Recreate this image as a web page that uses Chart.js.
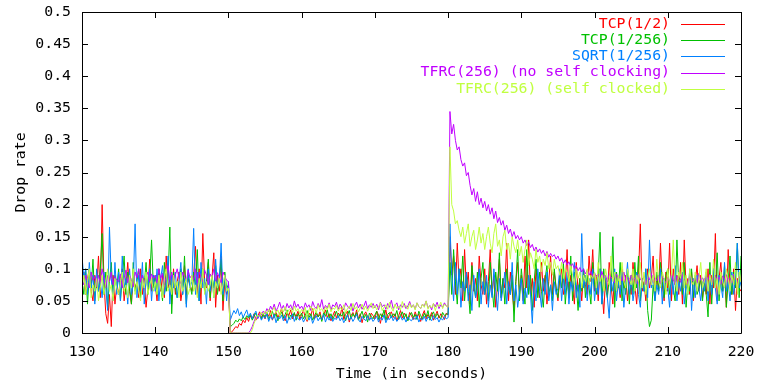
<!DOCTYPE html>
<html>
<head>
<meta charset="utf-8">
<script src="https://cdn.jsdelivr.net/npm/chart.js@4/dist/chart.umd.min.js"></script>
<style>
  html, body { margin: 0; padding: 0; background: #fff; }
  #wrap { width: 757px; height: 383px; }
</style>
</head>
<body>
<div id="wrap"><canvas id="drops"></canvas></div>
<script>
// samples every 0.25 s from 130 s to 220 s (one row = 5 s)
var startTime = 130;
var stepTime = 0.25;
var xTicks = [130, 140, 150, 160, 170, 180, 190, 200, 210, 220];
var yTicks = [0, 0.05, 0.1, 0.15, 0.2, 0.25, 0.3, 0.35, 0.4, 0.45, 0.5];
var seriesNames = ["TCP(1/2)", "TCP(1/256)", "SQRT(1/256)", "TFRC(256) (no self clocking)", "TFRC(256) (self clocked)"];
var seriesColors = ["#ff0000", "#00c000", "#0080ff", "#c000ff", "#c0ff40"];

var tcpHalf = [
  0.075, 0.095, 0.06, 0.085, 0.1, 0.065, 0.05, 0.09, 0.07, 0.12,
  0.055, 0.2, 0.08, 0.03, 0.015, 0.06, 0.01, 0.09, 0.045, 0.075,
  0.06, 0.085, 0.1, 0.05, 0.075, 0.11, 0.065, 0.045, 0.09, 0.07,
  0.08, 0.055, 0.1, 0.06, 0.085, 0.04, 0.07, 0.115, 0.065, 0.09,
  0.075, 0.05, 0.1, 0.065, 0.09, 0.055, 0.12, 0.07, 0.085, 0.045,
  0.1, 0.06, 0.08, 0.095, 0.05, 0.07, 0.105, 0.06, 0.085, 0.075,
  0.065, 0.09, 0.135, 0.06, 0.1, 0.045, 0.155, 0.08, 0.07, 0.11,
  0.05, 0.085, 0.125, 0.04, 0.09, 0.065, 0.12, 0.035, 0.08, 0.06,
  0.07, 0.0, 0.002, 0.006, 0.01, 0.008, 0.015, 0.012, 0.02, 0.016,
  0.024, 0.018, 0.027, 0.022, 0.03, 0.02, 0.026, 0.033, 0.024, 0.029,
  0.022, 0.031, 0.026, 0.035, 0.02, 0.028, 0.033, 0.024, 0.03, 0.038,
  0.025, 0.019, 0.032, 0.027, 0.036, 0.022, 0.03, 0.026, 0.034, 0.021,
  0.029, 0.035, 0.024, 0.018, 0.031, 0.027, 0.038, 0.022, 0.03, 0.025,
  0.033, 0.02, 0.028, 0.036, 0.024, 0.03, 0.019, 0.027, 0.034, 0.023,
  0.031, 0.026, 0.04, 0.021, 0.029, 0.034, 0.017, 0.027, 0.032, 0.024,
  0.036, 0.022, 0.03, 0.016, 0.028, 0.033, 0.025, 0.02, 0.031, 0.027,
  0.022, 0.034, 0.028, 0.015, 0.03, 0.025, 0.036, 0.021, 0.029, 0.033,
  0.024, 0.03, 0.019, 0.027, 0.035, 0.023, 0.031, 0.026, 0.02, 0.032,
  0.027, 0.021, 0.033, 0.025, 0.03, 0.018, 0.028, 0.035, 0.022, 0.029,
  0.024, 0.032, 0.02, 0.027, 0.034, 0.023, 0.03, 0.026, 0.021, 0.031,
  0.028, 0.15, 0.09, 0.12, 0.06, 0.14, 0.08, 0.1, 0.05, 0.13,
  0.07, 0.095, 0.045, 0.11, 0.065, 0.085, 0.05, 0.12, 0.075, 0.06,
  0.1, 0.045, 0.08, 0.13, 0.06, 0.09, 0.04, 0.075, 0.115, 0.055,
  0.085, 0.07, 0.14, 0.05, 0.095, 0.065, 0.035, 0.08, 0.11, 0.06,
  0.09, 0.05, 0.12, 0.07, 0.145, 0.06, 0.085, 0.04, 0.1, 0.075,
  0.055, 0.11, 0.065, 0.09, 0.045, 0.08, 0.12, 0.06, 0.095, 0.07,
  0.05, 0.085, 0.1, 0.06, 0.075, 0.13, 0.055, 0.09, 0.07, 0.045,
  0.11, 0.065, 0.085, 0.05, 0.095, 0.075, 0.06, 0.12, 0.08, 0.13,
  0.065, 0.09, 0.05, 0.1, 0.07, 0.03, 0.085, 0.06, 0.11, 0.075,
  0.045, 0.095, 0.065, 0.08, 0.055, 0.1, 0.07, 0.09, 0.05, 0.085,
  0.06, 0.11, 0.075, 0.045, 0.09, 0.17, 0.065, 0.08, 0.05, 0.1,
  0.07, 0.085, 0.12, 0.055, 0.09, 0.065, 0.14, 0.075, 0.05, 0.095,
  0.065, 0.14, 0.05, 0.1, 0.075, 0.09, 0.06, 0.11, 0.045, 0.145,
  0.07, 0.085, 0.06, 0.095, 0.05, 0.08, 0.105, 0.065, 0.09, 0.055,
  0.08, 0.06, 0.1, 0.045, 0.09, 0.07, 0.155, 0.05, 0.085, 0.11,
  0.065, 0.095, 0.04, 0.13, 0.075, 0.06, 0.1, 0.035, 0.085, 0.07,
  0.065
];
var tcp256 = [
  0.08, 0.06, 0.1, 0.045, 0.09, 0.07, 0.115, 0.05, 0.085, 0.065,
  0.1, 0.155, 0.06, 0.095, 0.04, 0.08, 0.11, 0.055, 0.09, 0.07,
  0.1, 0.05, 0.085, 0.12, 0.06, 0.095, 0.07, 0.045, 0.11, 0.065,
  0.08, 0.1, 0.055, 0.09, 0.075, 0.11, 0.06, 0.085, 0.145, 0.07,
  0.09, 0.06, 0.1, 0.075, 0.05, 0.11, 0.065, 0.085, 0.165, 0.03,
  0.095, 0.07, 0.055, 0.08, 0.1, 0.06, 0.12, 0.045, 0.09, 0.075,
  0.06, 0.095, 0.07, 0.13, 0.05, 0.085, 0.1, 0.065, 0.08, 0.115,
  0.055, 0.09, 0.07, 0.105, 0.06, 0.085, 0.115, 0.05, 0.095, 0.07,
  0.075, 0.01, 0.012, 0.015, 0.02, 0.017, 0.022, 0.019, 0.025, 0.021,
  0.027, 0.023, 0.029, 0.02, 0.026, 0.031, 0.024, 0.028, 0.022, 0.03,
  0.025, 0.032, 0.021, 0.028, 0.034, 0.024, 0.03, 0.019, 0.027, 0.033,
  0.023, 0.029, 0.036, 0.021, 0.028, 0.025, 0.032, 0.02, 0.03, 0.026,
  0.031, 0.022, 0.028, 0.035, 0.024, 0.03, 0.02, 0.027, 0.033, 0.025,
  0.029, 0.018, 0.032, 0.026, 0.036, 0.023, 0.03, 0.021, 0.028, 0.034,
  0.024, 0.03, 0.026, 0.033, 0.019, 0.028, 0.035, 0.022, 0.03, 0.025,
  0.032, 0.02, 0.027, 0.034, 0.023, 0.029, 0.017, 0.031, 0.026, 0.022,
  0.028, 0.034, 0.021, 0.03, 0.025, 0.036, 0.02, 0.029, 0.032, 0.024,
  0.03, 0.026, 0.035, 0.021, 0.028, 0.033, 0.023, 0.03, 0.019, 0.027,
  0.032, 0.024, 0.029, 0.021, 0.034, 0.027, 0.022, 0.031, 0.025, 0.035,
  0.02, 0.028, 0.033, 0.024, 0.03, 0.026, 0.022, 0.032, 0.027, 0.029,
  0.03, 0.11, 0.06, 0.13, 0.08, 0.045, 0.1, 0.07, 0.12, 0.05,
  0.09, 0.065, 0.03, 0.105, 0.075, 0.055, 0.095, 0.04, 0.085, 0.11,
  0.06, 0.08, 0.05, 0.11, 0.07, 0.04, 0.095, 0.065, 0.125, 0.055,
  0.085, 0.045, 0.1, 0.07, 0.06, 0.09, 0.017, 0.08, 0.13, 0.05,
  0.1, 0.07, 0.045, 0.13, 0.06, 0.09, 0.035, 0.08, 0.115, 0.055,
  0.095, 0.065, 0.04, 0.085, 0.105, 0.06, 0.075, 0.05, 0.1, 0.07,
  0.055, 0.09, 0.07, 0.11, 0.045, 0.08, 0.06, 0.12, 0.05, 0.095,
  0.075, 0.035, 0.085, 0.065, 0.1, 0.055, 0.09, 0.07, 0.045, 0.11,
  0.075, 0.06, 0.09, 0.157, 0.045, 0.1, 0.07, 0.055, 0.085, 0.065,
  0.15, 0.04, 0.095, 0.07, 0.11, 0.05, 0.08, 0.06, 0.1, 0.045,
  0.09, 0.06, 0.11, 0.07, 0.12, 0.05, 0.085, 0.065, 0.1, 0.035,
  0.01, 0.02, 0.075, 0.05, 0.095, 0.065, 0.11, 0.08, 0.055, 0.09,
  0.1, 0.06, 0.085, 0.07, 0.05, 0.145, 0.075, 0.09, 0.06, 0.11,
  0.04, 0.08, 0.065, 0.1, 0.055, 0.09, 0.06, 0.07, 0.085, 0.05,
  0.085, 0.06, 0.025, 0.11, 0.045, 0.1, 0.07, 0.125, 0.05, 0.09,
  0.065, 0.105, 0.04, 0.08, 0.12, 0.06, 0.095, 0.07, 0.14, 0.055,
  0.12
];
var sqrt256 = [
  0.12, 0.085, 0.1, 0.06, 0.11, 0.07, 0.09, 0.045, 0.1, 0.065,
  0.08, 0.055, 0.095, 0.07, 0.035, 0.165, 0.085, 0.05, 0.11, 0.06,
  0.095, 0.05, 0.12, 0.07, 0.085, 0.045, 0.1, 0.06, 0.075, 0.17,
  0.055, 0.09, 0.065, 0.11, 0.045, 0.085, 0.07, 0.1, 0.05, 0.09,
  0.065, 0.1, 0.05, 0.085, 0.105, 0.06, 0.075, 0.12, 0.045, 0.09,
  0.07, 0.095, 0.055, 0.08, 0.11, 0.06, 0.085, 0.04, 0.1, 0.07,
  0.08, 0.163, 0.06, 0.095, 0.05, 0.11, 0.07, 0.085, 0.045, 0.1,
  0.065, 0.09, 0.055, 0.115, 0.07, 0.08, 0.14, 0.06, 0.09, 0.05,
  0.08, 0.02, 0.028, 0.035, 0.03, 0.038, 0.027, 0.033, 0.024, 0.03,
  0.036, 0.025, 0.031, 0.022, 0.029, 0.034, 0.023, 0.028, 0.02, 0.026,
  0.023, 0.03, 0.018, 0.026, 0.021, 0.029, 0.016, 0.025, 0.022, 0.028,
  0.019, 0.027, 0.015, 0.024, 0.021, 0.03, 0.018, 0.026, 0.022, 0.02,
  0.025, 0.017, 0.023, 0.028, 0.02, 0.026, 0.015, 0.022, 0.027, 0.019,
  0.024, 0.021, 0.029, 0.017, 0.025, 0.02, 0.026, 0.018, 0.023, 0.021,
  0.027, 0.019, 0.024, 0.016, 0.022, 0.028, 0.02, 0.025, 0.018, 0.023,
  0.029, 0.021, 0.017, 0.026, 0.022, 0.019, 0.027, 0.02, 0.024, 0.018,
  0.022, 0.026, 0.017, 0.024, 0.02, 0.028, 0.016, 0.023, 0.021, 0.027,
  0.019, 0.025, 0.018, 0.022, 0.026, 0.02, 0.024, 0.017, 0.025, 0.021,
  0.019, 0.024, 0.021, 0.027, 0.017, 0.023, 0.02, 0.026, 0.018, 0.025,
  0.022, 0.019, 0.027, 0.021, 0.024, 0.017, 0.023, 0.02, 0.026, 0.022,
  0.024, 0.17, 0.09, 0.05, 0.11, 0.06, 0.1, 0.04, 0.08, 0.065,
  0.095, 0.05, 0.075, 0.035, 0.09, 0.055, 0.07, 0.1, 0.045, 0.08,
  0.06, 0.09, 0.04, 0.075, 0.055, 0.1, 0.065, 0.035, 0.085, 0.05,
  0.07, 0.095, 0.045, 0.08, 0.06, 0.11, 0.05, 0.075, 0.04, 0.065,
  0.085, 0.045, 0.07, 0.055, 0.09, 0.06, 0.015, 0.08, 0.05, 0.1,
  0.065, 0.04, 0.085, 0.06, 0.095, 0.05, 0.075, 0.035, 0.08, 0.06,
  0.07, 0.1, 0.05, 0.085, 0.06, 0.095, 0.045, 0.08, 0.065, 0.11,
  0.055, 0.075, 0.04, 0.155, 0.07, 0.09, 0.05, 0.085, 0.06, 0.1,
  0.05, 0.08, 0.06, 0.1, 0.045, 0.075, 0.09, 0.055, 0.023, 0.085,
  0.065, 0.1, 0.05, 0.08, 0.06, 0.095, 0.04, 0.075, 0.11, 0.06,
  0.085, 0.05, 0.07, 0.095, 0.06, 0.04, 0.08, 0.065, 0.1, 0.055,
  0.145, 0.07, 0.09, 0.05, 0.075, 0.06, 0.1, 0.045, 0.085, 0.065,
  0.07, 0.04, 0.09, 0.06, 0.105, 0.05, 0.08, 0.065, 0.095, 0.045,
  0.075, 0.06, 0.1, 0.035, 0.085, 0.055, 0.09, 0.07, 0.05, 0.08,
  0.065, 0.095, 0.05, 0.085, 0.06, 0.1, 0.07, 0.045, 0.09, 0.075,
  0.055, 0.11, 0.065, 0.08, 0.05, 0.095, 0.06, 0.085, 0.14, 0.07,
  0.08
];
var tfrcNoClock = [
  0.085, 0.075, 0.09, 0.08, 0.07, 0.095, 0.082, 0.088, 0.072, 0.09,
  0.078, 0.1, 0.085, 0.07, 0.09, 0.08, 0.095, 0.075, 0.088, 0.082,
  0.08, 0.092, 0.07, 0.085, 0.098, 0.078, 0.09, 0.083, 0.072, 0.095,
  0.086, 0.1, 0.079, 0.09, 0.075, 0.088, 0.095, 0.08, 0.092, 0.085,
  0.09, 0.078, 0.1, 0.085, 0.093, 0.075, 0.088, 0.105, 0.082, 0.095,
  0.08, 0.09, 0.1, 0.085, 0.077, 0.095, 0.088, 0.08, 0.098, 0.086,
  0.09, 0.083, 0.1, 0.078, 0.095, 0.087, 0.08, 0.098, 0.09, 0.075,
  0.092, 0.085, 0.1, 0.08, 0.094, 0.086, 0.078, 0.095, 0.088, 0.082,
  0.08, 0.0, 0.0, 0.0, 0.0, 0.0, 0.0, 0.0, 0.0, 0.0,
  0.0, 0.0, 0.004, 0.01, 0.018, 0.025, 0.022, 0.03, 0.028, 0.034,
  0.03, 0.038, 0.033, 0.042, 0.036, 0.045, 0.034, 0.04, 0.048, 0.037,
  0.043, 0.035, 0.046, 0.039, 0.044, 0.036, 0.05, 0.04, 0.045, 0.038,
  0.042, 0.036, 0.047, 0.04, 0.044, 0.035, 0.049, 0.041, 0.038, 0.046,
  0.04, 0.052, 0.037, 0.043, 0.039, 0.047, 0.036, 0.044, 0.041, 0.048,
  0.037, 0.045, 0.04, 0.036, 0.047, 0.042, 0.038, 0.046, 0.034, 0.043,
  0.048, 0.039, 0.045, 0.037, 0.042, 0.05, 0.038, 0.044, 0.04, 0.046,
  0.039, 0.045, 0.036, 0.048, 0.041, 0.044, 0.037, 0.046, 0.04, 0.051,
  0.038, 0.043, 0.047, 0.036, 0.044, 0.04, 0.046, 0.038, 0.042, 0.049,
  0.04, 0.044, 0.037, 0.047, 0.041, 0.038, 0.045, 0.042, 0.05, 0.039,
  0.043, 0.036, 0.046, 0.041, 0.048, 0.038, 0.044, 0.04, 0.047, 0.042,
  0.04, 0.345, 0.31, 0.325, 0.3, 0.285, 0.29, 0.27, 0.26, 0.265,
  0.245, 0.25, 0.23, 0.215, 0.225, 0.205, 0.22, 0.2, 0.21, 0.195,
  0.205, 0.19, 0.2, 0.185, 0.195, 0.178, 0.19, 0.172, 0.18, 0.168,
  0.175, 0.16, 0.168, 0.155, 0.162, 0.15, 0.158, 0.147, 0.152, 0.145,
  0.15, 0.14, 0.145, 0.136, 0.142, 0.133, 0.138, 0.128, 0.134, 0.126,
  0.131, 0.124, 0.129, 0.12, 0.127, 0.118, 0.124, 0.119, 0.122, 0.115,
  0.12, 0.112, 0.117, 0.108, 0.114, 0.106, 0.111, 0.103, 0.108, 0.1,
  0.105, 0.097, 0.102, 0.095, 0.1, 0.092, 0.098, 0.09, 0.096, 0.088,
  0.094, 0.087, 0.092, 0.084, 0.096, 0.086, 0.09, 0.08, 0.093, 0.085,
  0.089, 0.078, 0.092, 0.084, 0.088, 0.081, 0.095, 0.083, 0.087, 0.079,
  0.09, 0.082, 0.086, 0.077, 0.092, 0.084, 0.08, 0.089, 0.075, 0.087,
  0.083, 0.093, 0.079, 0.086, 0.081, 0.09, 0.076, 0.088, 0.083, 0.078,
  0.087, 0.08, 0.092, 0.083, 0.077, 0.089, 0.084, 0.079, 0.091, 0.082,
  0.086, 0.076, 0.09, 0.084, 0.08, 0.088, 0.078, 0.093, 0.082, 0.086,
  0.079, 0.088, 0.083, 0.092, 0.078, 0.085, 0.09, 0.081, 0.087, 0.076,
  0.089, 0.083, 0.091, 0.08, 0.086, 0.078, 0.092, 0.084, 0.08, 0.088,
  0.083
];
var tfrcClocked = [
  0.07, 0.09, 0.06, 0.08, 0.1, 0.055, 0.075, 0.065, 0.085, 0.05,
  0.07, 0.09, 0.06, 0.08, 0.1, 0.065, 0.075, 0.05, 0.085, 0.07,
  0.06, 0.08, 0.095, 0.065, 0.075, 0.055, 0.09, 0.07, 0.1, 0.06,
  0.08, 0.065, 0.05, 0.085, 0.07, 0.095, 0.06, 0.075, 0.085, 0.065,
  0.08, 0.06, 0.09, 0.07, 0.055, 0.085, 0.1, 0.065, 0.075, 0.06,
  0.09, 0.07, 0.08, 0.055, 0.095, 0.065, 0.075, 0.085, 0.06, 0.07,
  0.09, 0.065, 0.075, 0.055, 0.085, 0.07, 0.1, 0.06, 0.08, 0.065,
  0.075, 0.09, 0.055, 0.08, 0.07, 0.085, 0.06, 0.075, 0.09, 0.065,
  0.07, 0.0, 0.0, 0.0, 0.0, 0.0, 0.0, 0.0, 0.0, 0.0,
  0.0, 0.0, 0.0, 0.005, 0.015, 0.022, 0.028, 0.025, 0.032, 0.029,
  0.034, 0.03, 0.037, 0.028, 0.035, 0.04, 0.031, 0.036, 0.026, 0.038,
  0.033, 0.041, 0.03, 0.036, 0.039, 0.032, 0.042, 0.034, 0.038, 0.03,
  0.037, 0.033, 0.04, 0.02, 0.036, 0.042, 0.034, 0.039, 0.031, 0.044,
  0.035, 0.038, 0.032, 0.041, 0.036, 0.045, 0.033, 0.039, 0.037, 0.043,
  0.034, 0.04, 0.036, 0.044, 0.031, 0.038, 0.042, 0.035, 0.046, 0.037,
  0.041, 0.033, 0.039, 0.045, 0.036, 0.042, 0.034, 0.04, 0.047, 0.038,
  0.043, 0.036, 0.041, 0.047, 0.035, 0.04, 0.044, 0.037, 0.048, 0.039,
  0.034, 0.045, 0.038, 0.042, 0.036, 0.049, 0.04, 0.043, 0.037, 0.046,
  0.039, 0.044, 0.036, 0.047, 0.041, 0.038, 0.045, 0.04, 0.05, 0.037,
  0.043, 0.039, 0.046, 0.035, 0.044, 0.041, 0.048, 0.038, 0.045, 0.042,
  0.04, 0.29, 0.2, 0.19, 0.17, 0.175, 0.16, 0.15, 0.165, 0.14,
  0.155, 0.17, 0.135, 0.15, 0.16, 0.13, 0.145, 0.165, 0.14, 0.155,
  0.13, 0.15, 0.165, 0.14, 0.125, 0.155, 0.17, 0.135, 0.145, 0.12,
  0.15, 0.16, 0.13, 0.14, 0.115, 0.15, 0.135, 0.125, 0.145, 0.12,
  0.135, 0.11, 0.13, 0.145, 0.105, 0.125, 0.115, 0.1, 0.13, 0.11,
  0.12, 0.095, 0.115, 0.105, 0.125, 0.1, 0.11, 0.09, 0.115, 0.1,
  0.105, 0.09, 0.11, 0.085, 0.1, 0.095, 0.08, 0.105, 0.09, 0.075,
  0.1, 0.085, 0.095, 0.07, 0.09, 0.08, 0.1, 0.075, 0.09, 0.085,
  0.095, 0.07, 0.11, 0.08, 0.09, 0.065, 0.1, 0.085, 0.075, 0.12,
  0.08, 0.095, 0.065, 0.09, 0.075, 0.11, 0.08, 0.07, 0.1, 0.085,
  0.075, 0.1, 0.065, 0.09, 0.08, 0.11, 0.07, 0.095, 0.06, 0.085,
  0.1, 0.075, 0.09, 0.065, 0.115, 0.08, 0.07, 0.095, 0.085, 0.06,
  0.1, 0.075, 0.09, 0.145, 0.08, 0.065, 0.095, 0.085, 0.11, 0.07,
  0.09, 0.06, 0.1, 0.08, 0.075, 0.095, 0.065, 0.085, 0.11, 0.07,
  0.08, 0.1, 0.065, 0.09, 0.075, 0.115, 0.07, 0.085, 0.06, 0.095,
  0.08, 0.07, 0.1, 0.085, 0.065, 0.09, 0.075, 0.11, 0.06, 0.095,
  0.08
];

var allSeries = [tcpHalf, tcp256, sqrt256, tfrcNoClock, tfrcClocked];
var monoFont = "'DejaVu Sans Mono', 'Liberation Mono', monospace";
var fontSize = 14.8;

function toPoints(values) {
  return values.map(function(v, i) {
    return { x: startTime + i * stepTime, y: v };
  });
}

var datasets = allSeries.map(function(values, k) {
  return {
    label: seriesNames[k],
    data: toPoints(values),
    borderColor: seriesColors[k],
    backgroundColor: seriesColors[k],
    borderWidth: 1,
    pointRadius: 0,
    tension: 0,
    fill: false,
    order: allSeries.length - k
  };
});

// gnuplot style frame with inward ticks + right-aligned key
var framePlugin = {
  id: 'frame',
  afterDatasetsDraw: function(chart) {
    var ctx = chart.ctx, a = chart.chartArea;
    var xs = chart.scales.x, ys = chart.scales.y;
    var len = 6;
    ctx.save();
    ctx.strokeStyle = '#000';
    ctx.lineWidth = 1;
    ctx.beginPath();
    ctx.rect(Math.round(a.left) + 0.5, Math.round(a.top) + 0.5,
             Math.round(a.right - a.left), Math.round(a.bottom - a.top));
    xTicks.forEach(function(t) {
      var px = Math.round(xs.getPixelForValue(t)) + 0.5;
      ctx.moveTo(px, a.bottom); ctx.lineTo(px, a.bottom - len);
      ctx.moveTo(px, a.top); ctx.lineTo(px, a.top + len);
    });
    yTicks.forEach(function(t) {
      var py = Math.round(ys.getPixelForValue(t)) + 0.5;
      ctx.moveTo(a.left, py); ctx.lineTo(a.left + len, py);
      ctx.moveTo(a.right, py); ctx.lineTo(a.right - len, py);
    });
    ctx.stroke();

    // key
    ctx.font = fontSize + 'px ' + monoFont;
    ctx.textAlign = 'right';
    ctx.textBaseline = 'middle';
    chart.data.datasets.forEach(function(ds, k) {
      var y = 24 + k * 16.2;
      ctx.fillStyle = ds.borderColor;
      ctx.fillText(ds.label, 670, y);
      ctx.strokeStyle = ds.borderColor;
      ctx.beginPath();
      ctx.moveTo(681, Math.round(y) + 0.5);
      ctx.lineTo(725, Math.round(y) + 0.5);
      ctx.stroke();
    });
    ctx.restore();
  }
};

var ctx = document.getElementById("drops").getContext('2d');
var config = {
  type: 'line',
  data: { datasets: datasets },
  options: {
    responsive: true,
    maintainAspectRatio: false,
    animation: false,
    layout: { padding: { top: 12, right: 16, left: 0, bottom: 0 } },
    plugins: {
      legend: { display: false },
      tooltip: { enabled: false }
    },
    scales: {
      x: {
        type: 'linear',
        min: 130,
        max: 220,
        afterBuildTicks: function(axis) {
          axis.ticks = xTicks.map(function(v) { return { value: v }; });
        },
        grid: { display: false, drawTicks: false },
        border: { display: false },
        ticks: {
          color: '#000',
          padding: 10,
          maxRotation: 0,
          autoSkip: false,
          font: { family: monoFont, size: fontSize }
        },
        title: {
          display: true,
          text: 'Time (in seconds)',
          color: '#000',
          padding: { top: 4, bottom: 0 },
          font: { family: monoFont, size: fontSize }
        },
        afterFit: function(axis) {
          axis.height = 50;
          axis.paddingLeft = 0;
          axis.paddingRight = 0;
        }
      },
      y: {
        min: 0,
        max: 0.5,
        afterBuildTicks: function(axis) {
          axis.ticks = yTicks.map(function(v) { return { value: v }; });
        },
        grid: { display: false, drawTicks: false },
        border: { display: false },
        ticks: {
          color: '#000',
          padding: 11,
          autoSkip: false,
          font: { family: monoFont, size: fontSize },
          callback: function(v) { return String(+v.toFixed(2)); }
        },
        title: {
          display: true,
          text: 'Drop rate',
          color: '#000',
          padding: { top: 12, bottom: 4 },
          font: { family: monoFont, size: fontSize }
        },
        afterFit: function(axis) {
          axis.width = 82;
          axis.paddingTop = 0;
          axis.paddingBottom = 0;
        }
      }
    }
  },
  plugins: [framePlugin]
};

var chart = new Chart(ctx, config);
</script>
</body>
</html>
